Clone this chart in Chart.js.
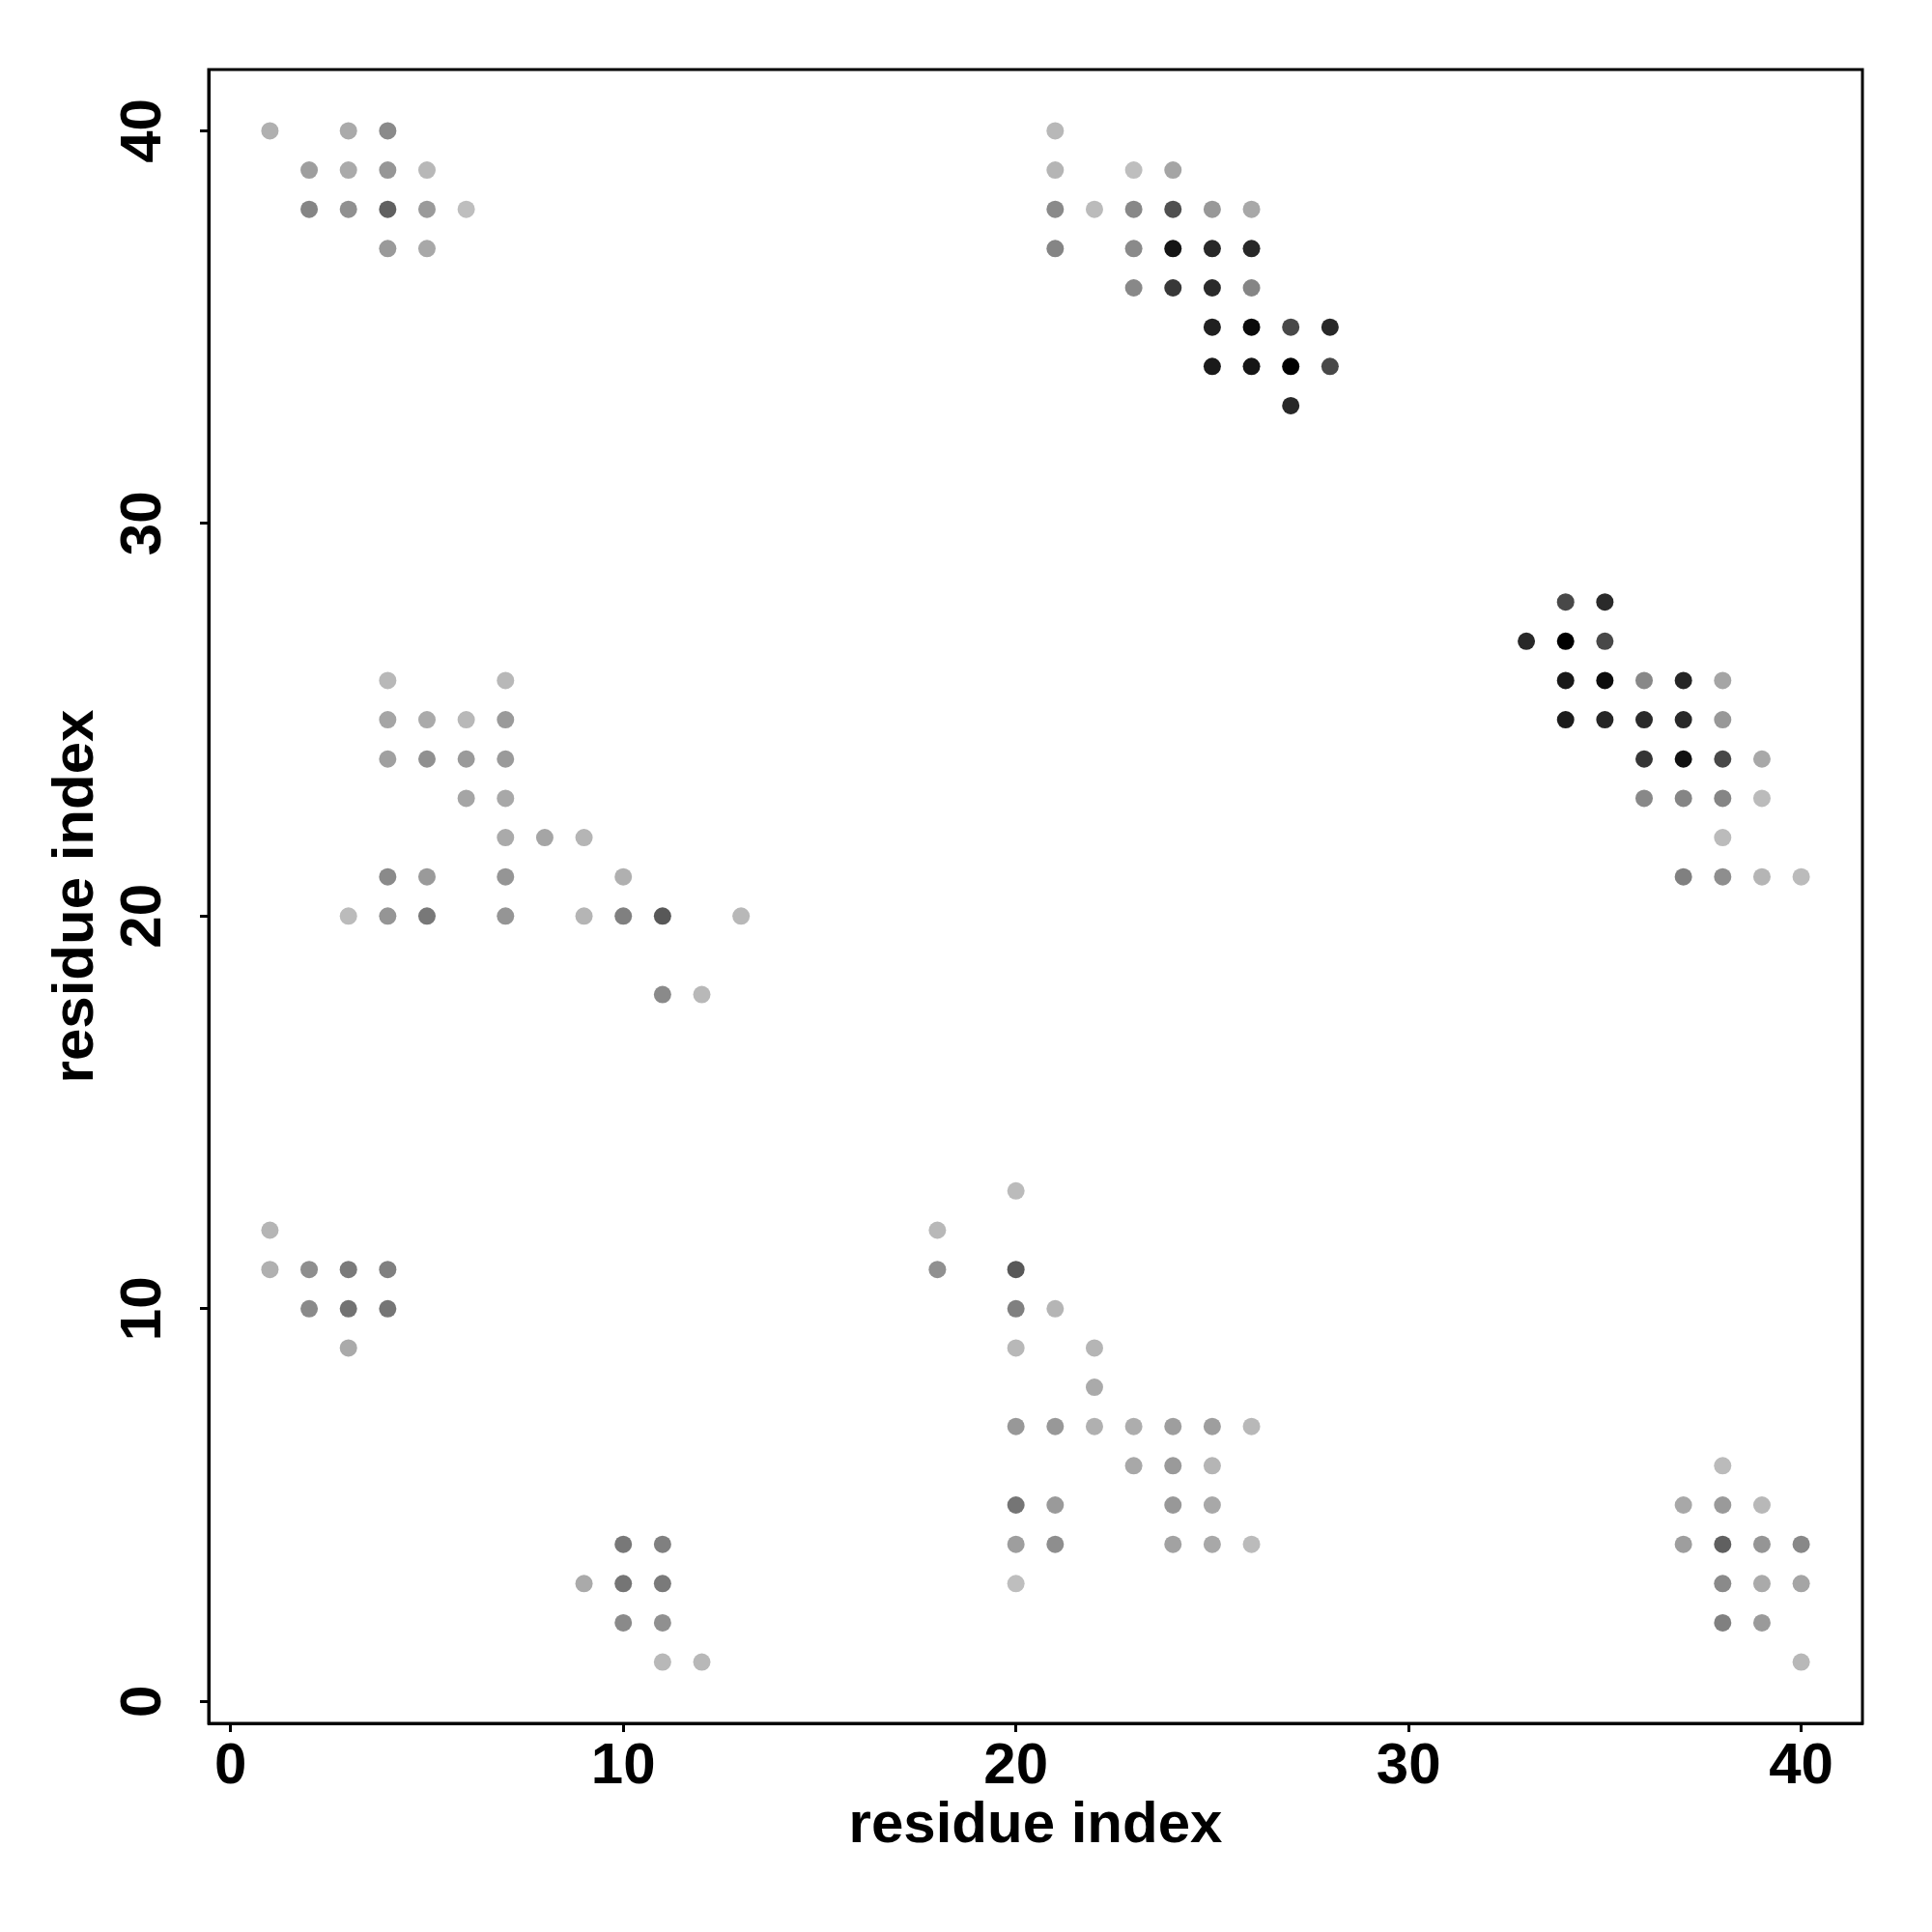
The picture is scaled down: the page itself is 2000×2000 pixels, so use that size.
<!DOCTYPE html>
<html>
<head>
<meta charset="utf-8">
<script src="https://cdn.jsdelivr.net/npm/chart.js@4/dist/chart.umd.min.js"></script>
<style>
  html, body { margin: 0; padding: 0; background: #fff; }
  #wrap { width: 2000px; height: 2000px; }
</style>
</head>
<body>
<div id="wrap"><canvas id="c" width="2000" height="2000"></canvas></div>
<script>
// residue index (x) of each contact
const xIdx = [
  1,3,4, 2,3,4,5, 2,3,4,5,6, 4,5,
  4,7, 4,5,6,7, 4,5,6,7, 6,7, 7,8,9, 4,5,7,10, 3,4,5,7,9,10,11,13, 11,12,
  1, 1,2,3,4, 2,3,4, 3,
  10,11, 9,10,11, 10,11, 11,12,
  21, 21,23,24, 21,22,23,24,25,26, 21,23,24,25,26, 23,24,25,26, 25,26,27,28, 25,26,27,28, 27,
  34,35, 33,34,35, 34,35,36,37,38, 34,35,36,37,38, 36,37,38,39, 36,37,38,39, 38, 37,38,39,40,
  20, 18, 18,20, 20,21, 20,22, 22, 20,21,22,23,24,25,26, 23,24,25, 20,21,24,25, 20,21,24,25,26, 20,
  38, 37,38,39, 37,38,39,40, 38,39,40, 38,39, 40
];
// residue index (y) of each contact
const yIdx = [
  40,40,40, 39,39,39,39, 38,38,38,38,38, 37,37,
  26,26, 25,25,25,25, 24,24,24,24, 23,23, 22,22,22, 21,21,21,21, 20,20,20,20,20,20,20,20, 18,18,
  12, 11,11,11,11, 10,10,10, 9,
  4,4, 3,3,3, 2,2, 1,1,
  40, 39,39,39, 38,38,38,38,38,38, 37,37,37,37,37, 36,36,36,36, 35,35,35,35, 34,34,34,34, 33,
  28,28, 27,27,27, 26,26,26,26,26, 25,25,25,25,25, 24,24,24,24, 23,23,23,23, 22, 21,21,21,21,
  13, 12, 11,11, 10,10, 9,9, 8, 7,7,7,7,7,7,7, 6,6,6, 5,5,5,5, 4,4,4,4,4, 3,
  6, 5,5,5, 4,4,4,4, 3,3,3, 2,2, 1
];
// grey level of each point (0 = black, 255 = white)
const shade = [
  0xB0,0xAA,0x8A, 0x9E,0xAA,0x96,0xB8, 0x85,0x90,0x60,0x9A,0xBE, 0x9A,0xA8,
  0xB8,0xB8, 0xA5,0xAA,0xB8,0x9A, 0xA0,0x90,0x9A,0x9A, 0xA5,0xA8, 0xAA,0xA5,0xB5, 0x8A,0x9A,0x95,0xB0, 0xBB,0x95,0x78,0x95,0xB5,0x80,0x58,0xB8, 0x8A,0xB8,
  0xB5, 0xB0,0x8E,0x7A,0x80, 0x8A,0x72,0x75, 0xAA,
  0x78,0x80, 0xAA,0x75,0x7A, 0x8A,0x90, 0xB8,0xB8,
  0xB8, 0xB5,0xBE,0xA5, 0x8A,0xBB,0x88,0x50,0x98,0xA8, 0x85,0x8A,0x15,0x28,0x28, 0x88,0x38,0x2A,0x85, 0x20,0x0A,0x48,0x28, 0x1A,0x15,0x00,0x48, 0x28,
  0x48,0x2A, 0x28,0x00,0x48, 0x18,0x0C,0x88,0x25,0xA5, 0x1C,0x25,0x2A,0x28,0x98, 0x35,0x10,0x48,0xA8, 0x88,0x85,0x85,0xBB, 0xBB, 0x80,0x8E,0xB5,0xBB,
  0xBB, 0xB8, 0x90,0x58, 0x80,0xB5, 0xB8,0xB5, 0xAA, 0x98,0x98,0xB0,0xAD,0x9E,0x9E,0xB8, 0xA8,0x9A,0xB5, 0x75,0x9A,0x98,0xA8, 0x9E,0x8E,0xA2,0xA8,0xBB, 0xBE,
  0xBB, 0xA8,0x9A,0xB8, 0x9E,0x60,0x95,0x88, 0x8A,0xAA,0xA5, 0x80,0x9A, 0xB8
];
const tickVals = [0, 10, 20, 30, 40];
const xTitle = 'residue index';
const yTitle = 'residue index';

const points = xIdx.map((x, i) => ({ x: x, y: yIdx[i] }));
const colors = shade.map(g => `rgb(${g},${g},${g})`);

Chart.defaults.font.family = '"Liberation Sans", Arial, Helvetica, sans-serif';
Chart.defaults.font.weight = 'bold';
Chart.defaults.color = '#000';

const framePlugin = {
  id: 'frame',
  afterDraw(chart) {
    const { ctx, chartArea: a } = chart;
    ctx.save();
    ctx.strokeStyle = '#000';
    ctx.lineWidth = 3;
    ctx.strokeRect(a.left, a.top, a.right - a.left, a.bottom - a.top);
    ctx.restore();
  }
};

const tickFont = { size: 60, weight: 'bold' };

new Chart(document.getElementById('c'), {
  type: 'scatter',
  data: {
    datasets: [{
      data: points,
      backgroundColor: colors,
      borderWidth: 0,
      pointRadius: 9,
      pointHoverRadius: 9,
      pointStyle: 'circle'
    }]
  },
  options: {
    responsive: false,
    animation: false,
    devicePixelRatio: 1,
    layout: { padding: { top: 72, right: 72, left: 0, bottom: 0 } },
    plugins: { legend: { display: false }, tooltip: { enabled: false } },
    scales: {
      x: {
        type: 'linear',
        position: 'bottom',
        min: -0.56,
        max: 41.56,
        afterBuildTicks: s => { s.ticks = tickVals.map(v => ({ value: v })); },
        afterFit: s => { s.height = 216; },
        ticks: { font: tickFont, color: '#000', padding: 0, maxRotation: 0, minRotation: 0 },
        grid: { display: true, drawOnChartArea: false, drawTicks: true, tickLength: 9, tickWidth: 3, tickColor: '#000' },
        border: { display: true, color: '#000', width: 3 },
        title: { display: true, text: xTitle, font: { size: 60, weight: 'bold' }, color: '#000', padding: { top: 0, bottom: 74 } }
      },
      y: {
        type: 'linear',
        position: 'left',
        min: -0.56,
        max: 41.56,
        afterBuildTicks: s => { s.ticks = tickVals.map(v => ({ value: v })); },
        afterFit: s => { s.width = 216; },
        ticks: { font: tickFont, color: '#000', padding: 24, minRotation: 90, maxRotation: 90, crossAlign: 'center' },
        grid: { display: true, drawOnChartArea: false, drawTicks: true, tickLength: 9, tickWidth: 3, tickColor: '#000' },
        border: { display: true, color: '#000', width: 3 },
        title: { display: true, text: yTitle, font: { size: 60, weight: 'bold' }, color: '#000', padding: { top: 43, bottom: 0 } }
      }
    }
  },
  plugins: [framePlugin]
});
</script>
</body>
</html>
